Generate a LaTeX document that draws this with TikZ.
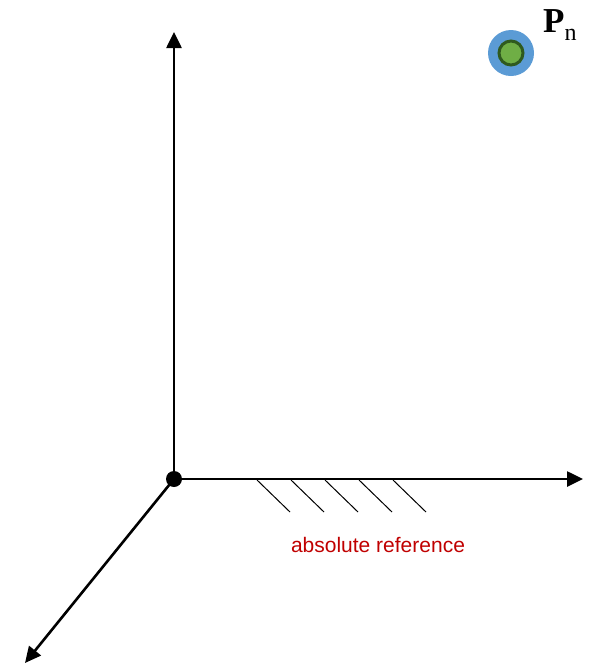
\documentclass[tikz,border=0pt]{standalone}
\usepackage{fontspec}
\setmainfont{Liberation Serif}
\newfontfamily\refsans{Liberation Sans}
\usetikzlibrary{arrows.meta, positioning, calc}
\definecolor{axisBd}{HTML}{000000}
\definecolor{refTx}{HTML}{C00000}
\definecolor{ptOut}{HTML}{5B9BD5}
\definecolor{ptIn}{HTML}{6FAE45}
\definecolor{ptBd}{HTML}{2F5A1E}

\begin{document}
\begin{tikzpicture}[
  x=1pt, y=-1pt,
  >={Triangle[length=16pt, width=15pt]},
  axis/.style={->, line width=2.6pt, draw=axisBd},
  hatch/.style={line width=1pt, draw=axisBd},
  dot/.style={circle, fill=axisBd, inner sep=0pt, minimum size=16pt},
]
\useasboundingbox (0,0) rectangle (589,665);

% ---------------------------- the frame -----------------------------------
\node[dot] (origin) at (174,479) {};
\coordinate (zTip) at (174,32);
\coordinate (xTip) at (583,479);
\coordinate (yTip) at (25,663);

\draw[axis] (origin.center) -- (zTip);
\draw[axis] (origin.center) -- (xTip);
\draw[axis] (origin.center) -- (yTip);

% ground hatching under the x axis
\foreach \hx in {257,291,325,359,393}
  \draw[hatch] (\hx,480) -- ++(33,32);

\node[anchor=base, text=refTx, font=\refsans\fontsize{21}{21}\selectfont]
  (absref) at (378,552) {absolute reference};

% ---------------------------- the point ------------------------------------
\node[circle, fill=ptOut, inner sep=0pt, minimum size=46pt] (pn) at (511,53) {};
\node[circle, fill=ptIn, draw=ptBd, line width=3pt, inner sep=0pt,
      minimum size=24pt] (pncore) at (pn.center) {};

\node[anchor=base west, inner sep=0pt] (pnlabel) at (543,32)
  {\fontsize{35}{35}\selectfont\bfseries P\raisebox{-8pt}{\fontsize{24}{24}\selectfont\mdseries n}};

\end{tikzpicture}
\end{document}
